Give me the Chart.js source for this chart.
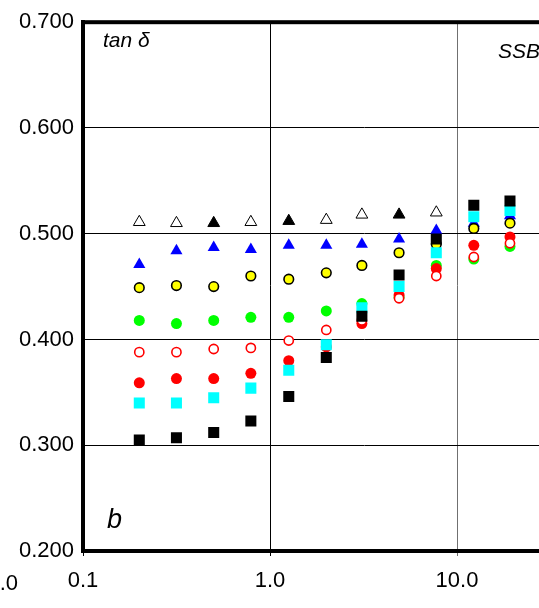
<!DOCTYPE html>
<html>
<head>
<meta charset="utf-8">
<script src="https://cdn.jsdelivr.net/npm/chart.js@4/dist/chart.umd.min.js"></script>
<style>
  html, body { margin: 0; padding: 0; background: #fff; overflow: hidden; }
  #wrap { width: 700px; height: 608px; }
</style>
</head>
<body>
<div id="wrap"><canvas id="chart" width="700" height="608"></canvas></div>
<script>
// frequency columns
const frequencies = [0.2, 0.316, 0.5, 0.79, 1.26, 2.0, 3.1, 4.9, 7.75, 12.3, 19.2];

// tan delta per series (null = not visible)
const openTriangles = [0.511, 0.510, 0.510, 0.511, 0.512, 0.513, 0.518, 0.518, 0.520, null, null];
const blueTriangles = [0.471, 0.484, 0.487, 0.485, 0.489, 0.489, 0.490, 0.495, 0.503, 0.510, 0.517];
const yellowCircles = [0.449, 0.451, 0.450, 0.460, 0.457, 0.463, 0.470, 0.482, 0.490, 0.505, 0.510];
const greenCircles = [0.418, 0.415, 0.418, 0.421, 0.421, 0.427, 0.434, 0.440, 0.470, 0.476, 0.488];
const redOpenCircles = [0.388, 0.388, 0.391, 0.392, 0.399, 0.409, 0.418, 0.439, 0.460, 0.478, 0.491];
const redCircles = [0.359, 0.363, 0.363, 0.368, 0.380, 0.393, 0.415, 0.442, 0.467, 0.489, 0.497];
const cyanSquares = [0.340, 0.340, 0.345, 0.354, 0.371, 0.395, 0.430, 0.450, 0.482, 0.516, 0.522];
const blackSquares = [0.305, 0.307, 0.312, 0.323, 0.346, 0.383, 0.422, 0.461, 0.495, 0.527, 0.531];

const xTicks = [0.1, 1, 10, 100];
const xTickLabels = ['0.1', '1.0', '10.0', '100.0'];

// open triangles that print dark in the figure
const darkTriangles = [2, 4, 7];

const FONT = '"Liberation Sans", Arial, sans-serif';

function points(values) {
  return frequencies.map((f, i) => ({ x: f, y: values[i] }));
}

function series(values, style) {
  return Object.assign({
    data: points(values),
    showLine: false,
    borderWidth: 0
  }, style);
}

const frame = {
  id: 'frame',
  afterDraw(chart) {
    const { ctx, chartArea } = chart;
    ctx.save();
    ctx.fillStyle = '#000';
    ctx.fillRect(chartArea.left - 2, chartArea.top - 2, chartArea.right - chartArea.left + 4, 4);

    ctx.font = 'italic 21px ' + FONT;
    ctx.textBaseline = 'alphabetic';
    ctx.textAlign = 'left';
    ctx.fillText('tan \u03B4', 103, 47);
    ctx.fillText('SSBR', 498, 58);

    ctx.font = 'italic 27px ' + FONT;
    ctx.fillText('b', 107, 528);

    ctx.font = '22px ' + FONT;
    ctx.textAlign = 'right';
    ctx.fillText('100.0', 18, 590);
    ctx.restore();
  }
};

new Chart(document.getElementById('chart'), {
  type: 'scatter',
  data: {
    datasets: [
      series(blackSquares, { pointStyle: 'rect', pointRadius: 7.8, backgroundColor: '#000', borderColor: '#000' }),
      series(cyanSquares, { pointStyle: 'rect', pointRadius: 7.8, backgroundColor: '#00ffff', borderColor: '#00ffff' }),
      series(yellowCircles, { pointStyle: 'circle', pointRadius: 4.8, backgroundColor: '#ffff00', borderColor: '#000', borderWidth: 1.6 }),
      series(redOpenCircles, { pointStyle: 'circle', pointRadius: 4.6, backgroundColor: '#fff', borderColor: '#ff0000', borderWidth: 1.6 }),
      series(redCircles, { pointStyle: 'circle', pointRadius: 5.5, backgroundColor: '#ff0000', borderColor: '#ff0000' }),
      series(greenCircles, { pointStyle: 'circle', pointRadius: 5.5, backgroundColor: '#00ff00', borderColor: '#00ff00' }),
      series(blueTriangles, { pointStyle: 'triangle', pointRadius: 7, backgroundColor: '#0000ff', borderColor: '#0000ff' }),
      series(openTriangles, {
        pointStyle: 'triangle',
        pointRadius: 6.8,
        backgroundColor: c => darkTriangles.includes(c.dataIndex) ? '#000' : '#fff',
        borderColor: '#000',
        borderWidth: 1
      })
    ]
  },
  options: {
    responsive: false,
    animation: false,
    events: [],
    layout: { padding: { top: 18, right: 56, left: 0, bottom: 0 } },
    plugins: {
      legend: { display: false },
      tooltip: { enabled: false }
    },
    scales: {
      x: {
        type: 'logarithmic',
        min: 0.1,
        max: 100,
        afterBuildTicks: scale => { scale.ticks = xTicks.map(v => ({ value: v })); },
        afterFit: scale => { scale.height = 57; },
        border: { width: 4, color: '#000' },
        grid: {
          color: c => (c.tick && c.tick.value === 10) ? '#707070' : '#000',
          lineWidth: 1,
          tickLength: 5
        },
        ticks: {
          color: '#000',
          font: { family: FONT, size: 22 },
          padding: 12,
          maxRotation: 0,
          autoSkip: false,
          callback: (value, index) => xTickLabels[index]
        }
      },
      y: {
        type: 'linear',
        min: 0.2,
        max: 0.7,
        afterFit: scale => { scale.width = 83; },
        border: { width: 4, color: '#000' },
        grid: { color: '#000', lineWidth: 1, drawTicks: false },
        ticks: {
          stepSize: 0.1,
          color: '#000',
          font: { family: FONT, size: 22 },
          padding: 9,
          callback: v => v.toFixed(3)
        }
      }
    }
  },
  plugins: [frame]
});
</script>
</body>
</html>
